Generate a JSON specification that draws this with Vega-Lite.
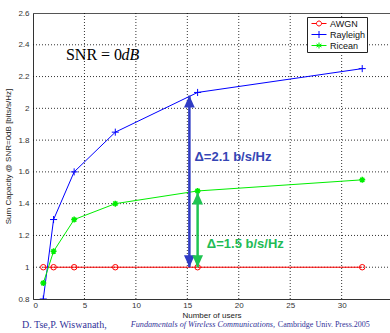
{
  "$schema": "https://vega.github.io/schema/vega-lite/v6.json",
  "width": 357,
  "height": 286,
  "autosize": "none",
  "padding": {"left": 33, "top": 13, "right": 0, "bottom": 34},
  "background": "white",
  "config": {
    "view": {"stroke": "#555", "strokeWidth": 1},
    "axis": {
      "domainColor": "#333",
      "ticks": false,
      "grid": false,
      "labelFont": "Liberation Sans",
      "labelFontSize": 8,
      "labelColor": "#333",
      "labelOverlap": false,
      "titleFont": "Liberation Sans",
      "titleFontSize": 8,
      "titleFontWeight": "normal",
      "titleColor": "#222"
    }
  },
  "datasets": {
    "curves": [
      {"x": 1, "y": 1, "series": "AWGN"},
      {"x": 2, "y": 1, "series": "AWGN"},
      {"x": 4, "y": 1, "series": "AWGN"},
      {"x": 8, "y": 1, "series": "AWGN"},
      {"x": 16, "y": 1, "series": "AWGN"},
      {"x": 32, "y": 1, "series": "AWGN"},
      {"x": 1, "y": 0.8, "series": "Rayleigh"},
      {"x": 2, "y": 1.3, "series": "Rayleigh"},
      {"x": 4, "y": 1.6, "series": "Rayleigh"},
      {"x": 8, "y": 1.85, "series": "Rayleigh"},
      {"x": 16, "y": 2.1, "series": "Rayleigh"},
      {"x": 32, "y": 2.25, "series": "Rayleigh"},
      {"x": 1, "y": 0.9, "series": "Ricean"},
      {"x": 2, "y": 1.1, "series": "Ricean"},
      {"x": 4, "y": 1.3, "series": "Ricean"},
      {"x": 8, "y": 1.4, "series": "Ricean"},
      {"x": 16, "y": 1.48, "series": "Ricean"},
      {"x": 32, "y": 1.55, "series": "Ricean"}
    ]
  },
  "encoding": {
    "x": {"field": "x", "type": "quantitative", "scale": {"domain": [0, 34.7], "nice": false, "zero": false},
          "axis": {"values": [0, 5, 10, 15, 20, 25, 30, 35], "title": "Number of users", "labelPadding": 2, "titlePadding": 2, "labelOverlap": false}},
    "y": {"field": "y", "type": "quantitative", "scale": {"domain": [0.8, 2.6], "nice": false, "zero": false},
          "axis": {"values": [0.8, 1, 1.2, 1.4, 1.6, 1.8, 2, 2.2, 2.4, 2.6], "format": "~g", "title": "Sum Capacity @ SNR=0dB [bits/s/Hz]", "labelPadding": 4, "titlePadding": 5, "labelOverlap": false}}
  },
  "layer": [
    {
      "data": {"values": [
        {"x": 5, "y": 0.8, "y2": 2.6}, {"x": 10, "y": 0.8, "y2": 2.6}, {"x": 15, "y": 0.8, "y2": 2.6},
        {"x": 20, "y": 0.8, "y2": 2.6}, {"x": 25, "y": 0.8, "y2": 2.6}, {"x": 30, "y": 0.8, "y2": 2.6}
      ]},
      "mark": {"type": "rule", "stroke": "#000", "strokeWidth": 1, "strokeDash": [1, 2], "opacity": 0.8},
      "encoding": {"y2": {"field": "y2"}}
    },
    {
      "data": {"values": [
        {"y": 1, "x": 0, "x2": 34.7}, {"y": 1.2, "x": 0, "x2": 34.7}, {"y": 1.4, "x": 0, "x2": 34.7}, {"y": 1.6, "x": 0, "x2": 34.7},
        {"y": 1.8, "x": 0, "x2": 34.7}, {"y": 2, "x": 0, "x2": 34.7}, {"y": 2.2, "x": 0, "x2": 34.7}, {"y": 2.4, "x": 0, "x2": 34.7}
      ]},
      "mark": {"type": "rule", "stroke": "#000", "strokeWidth": 1, "strokeDash": [1, 2], "opacity": 0.8},
      "encoding": {"x2": {"field": "x2"}}
    },
    {
      "data": {"name": "curves"},
      "transform": [{"filter": "datum.series === 'AWGN'"}],
      "layer": [
        {"mark": {"type": "line", "strokeWidth": 1, "stroke": "#ff0000", "clip": true}},
        {"mark": {"type": "point", "shape": "circle", "filled": false, "size": 30, "stroke": "#ff0000", "strokeWidth": 1, "clip": true, "opacity": 1}}
      ]
    },
    {
      "data": {"name": "curves"},
      "transform": [{"filter": "datum.series === 'Rayleigh'"}],
      "layer": [
        {"mark": {"type": "line", "strokeWidth": 1, "stroke": "#0000ff", "clip": true}},
        {"mark": {"type": "point", "shape": "M-1,0H1M0,-1V1", "filled": false, "size": 50, "stroke": "#0000ff", "strokeWidth": 1, "clip": true, "opacity": 1}}
      ]
    },
    {
      "data": {"name": "curves"},
      "transform": [{"filter": "datum.series === 'Ricean'"}],
      "layer": [
        {"mark": {"type": "line", "strokeWidth": 1, "stroke": "#00ee00", "clip": true}},
        {"mark": {"type": "point", "shape": "M-1,0H1M0,-1V1M-0.7,-0.7L0.7,0.7M-0.7,0.7L0.7,-0.7", "filled": false, "size": 36, "stroke": "#00ee00", "strokeWidth": 1.5, "clip": true, "opacity": 1}}
      ]
    },
    {
      "data": {"values": [{"series": "AWGN"}, {"series": "Rayleigh"}, {"series": "Ricean"}]},
      "mark": {"type": "point", "filled": false, "opacity": 0},
      "encoding": {
        "x": {"value": 0},
        "y": {"value": 0},
        "color": {"field": "series", "type": "nominal", "scale": {"domain": ["AWGN", "Rayleigh", "Ricean"], "range": ["#ff0000", "#0000ff", "#00ee00"]},
                  "legend": {"title": null, "orient": "none", "legendX": 274, "legendY": 4, "fillColor": "white", "strokeColor": "#222", "padding": 1,
                             "symbolSize": 100, "symbolOpacity": 1, "symbolStrokeWidth": 1, "symbolOffset": 3, "labelOffset": 8, "rowPadding": 0,
                             "labelFont": "Liberation Sans", "labelFontSize": 9, "labelColor": "#111", "labelLimit": 200}},
        "shape": {"field": "series", "type": "nominal",
                  "scale": {"domain": ["AWGN", "Rayleigh", "Ricean"], "range": ["M-1,0H0M1,0H2M1,0A0.5,0.5,0,1,1,0,0A0.5,0.5,0,1,1,1,0", "M-1,0H2M0.5,-0.7V0.7", "M-1,0H2M0.5,-0.6V0.6M0,-0.3L1,0.3M0,0.3L1,-0.3"]},
                  "legend": {"title": null, "orient": "none", "legendX": 274, "legendY": 4, "fillColor": "white", "strokeColor": "#222", "padding": 1,
                             "symbolSize": 100, "symbolOpacity": 1, "symbolStrokeWidth": 1, "symbolOffset": 3, "labelOffset": 8, "rowPadding": 0,
                             "labelFont": "Liberation Sans", "labelFontSize": 9, "labelColor": "#111", "labelLimit": 200}}
      }
    },
    {
      "data": {"values": [{"x": 15.2, "y": 1.0, "y2": 2.08}]},
      "layer": [
        {"mark": {"type": "rule", "stroke": "#2f3bc4", "strokeWidth": 2.5}, "encoding": {"y2": {"field": "y2"}}},
        {"mark": {"type": "point", "shape": "M0,0L0.45,1L-0.45,1Z", "filled": true, "size": 576, "color": "#2f3bc4", "opacity": 1}, "encoding": {"y": {"field": "y2", "type": "quantitative"}}},
        {"mark": {"type": "point", "shape": "M0,0L0.45,-1L-0.45,-1Z", "filled": true, "size": 576, "color": "#2f3bc4", "opacity": 1}}
      ]
    },
    {
      "data": {"values": [{"x": 16.0, "y": 1.0, "y2": 1.47}]},
      "layer": [
        {"mark": {"type": "rule", "stroke": "#1fc452", "strokeWidth": 2.5}, "encoding": {"y2": {"field": "y2"}}},
        {"mark": {"type": "point", "shape": "M0,0L0.45,1L-0.45,1Z", "filled": true, "size": 576, "color": "#1fc452", "opacity": 1}, "encoding": {"y": {"field": "y2", "type": "quantitative"}}},
        {"mark": {"type": "point", "shape": "M0,0L0.45,-1L-0.45,-1Z", "filled": true, "size": 576, "color": "#1fc452", "opacity": 1}}
      ]
    },
    {
      "data": {"values": [{"x": 15.7, "y": 1.694, "t": "Δ=2.1 b/s/Hz"}]},
      "mark": {"type": "text", "align": "left", "baseline": "middle", "font": "Liberation Sans", "fontWeight": "bold", "fontSize": 13, "color": "#3545b5"},
      "encoding": {"text": {"field": "t"}}
    },
    {
      "data": {"values": [{"x": 16.9, "y": 1.146, "t": "Δ=1.5 b/s/Hz"}]},
      "mark": {"type": "text", "align": "left", "baseline": "middle", "font": "Liberation Sans", "fontWeight": "bold", "fontSize": 13, "color": "#22bb55"},
      "encoding": {"text": {"field": "t"}}
    },
    {
      "data": {"values": [{"x": 3.2, "y": 2.336, "t": "SNR = 0"}]},
      "mark": {"type": "text", "align": "left", "baseline": "middle", "font": "Liberation Serif", "fontSize": 16, "color": "#000"},
      "encoding": {"text": {"field": "t"}}
    },
    {
      "data": {"values": [{"x": 8.6, "y": 2.336, "t": "dB"}]},
      "mark": {"type": "text", "align": "left", "baseline": "middle", "font": "Liberation Serif", "fontStyle": "italic", "fontSize": 16, "color": "#000"},
      "encoding": {"text": {"field": "t"}}
    },
    {
      "data": {"values": [{"x": -1.07, "y": 0.636, "t": "D. Tse,P. Wiswanath,"}]},
      "mark": {"type": "text", "align": "left", "baseline": "middle", "font": "Liberation Serif", "fontSize": 10, "color": "#333399"},
      "encoding": {"text": {"field": "t"}}
    },
    {
      "data": {"values": [
        {"x": 9.5, "y": 0.636, "t": "Fundamentals of Wireless Communications,", "s": "italic"},
        {"x": 23.8, "y": 0.636, "t": "Cambridge Univ. Press.2005", "s": "normal"}
      ]},
      "encoding": {"text": {"field": "t"}},
      "layer": [
        {"transform": [{"filter": "datum.s === 'normal'"}],
         "mark": {"type": "text", "align": "left", "baseline": "middle", "font": "Liberation Serif", "fontSize": 8, "color": "#333399"}},
        {"transform": [{"filter": "datum.s === 'italic'"}],
         "mark": {"type": "text", "align": "left", "baseline": "middle", "font": "Liberation Serif", "fontStyle": "italic", "fontSize": 8.2, "color": "#333399"}}
      ]
    }
  ]
}
